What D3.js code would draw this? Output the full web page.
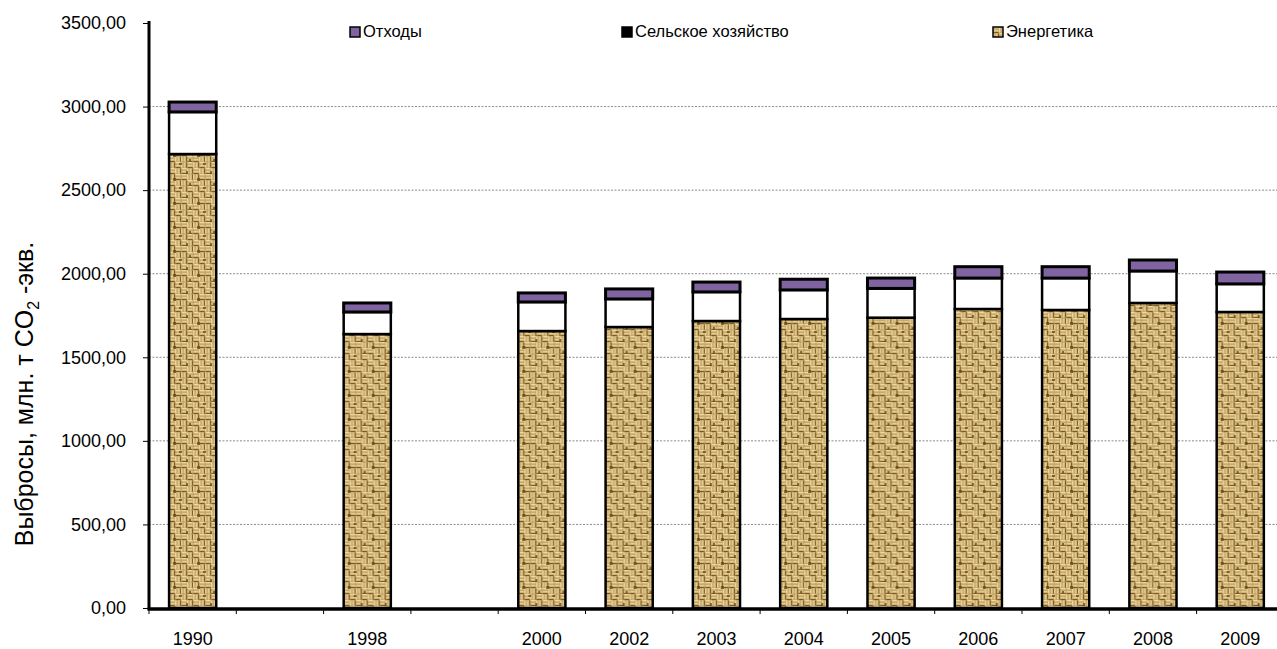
<!DOCTYPE html>
<html lang="ru">
<head>
<meta charset="utf-8">
<script src="https://cdn.jsdelivr.net/npm/d3@7"></script>
<style>
  html, body { margin: 0; padding: 0; background: #fff; }
  svg { display: block; font-family: "Liberation Sans", Arial, sans-serif; }
</style>
</head>
<body>
<svg id="chart" width="1277" height="649"></svg>
<script>
// Axis slots: empty strings keep gaps between 1990, 1998 and 2000
const slots = ["1990", "", "1998", "", "2000", "2002", "2003", "2004", "2005", "2006", "2007", "2008", "2009"];
const years = ["1990", "1998", "2000", "2002", "2003", "2004", "2005", "2006", "2007", "2008", "2009"];

// Emissions by sector, Mt CO2-eq.
const energy   = [2716, 1639, 1657, 1681, 1717, 1729, 1737, 1789, 1783, 1825, 1771];
const industry = [252, 132, 174, 168, 174, 174, 175, 185, 191, 191, 168];
const waste    = [59, 54, 54, 60, 59, 64, 62, 68, 68, 66, 71];

const yTicks = [0, 500, 1000, 1500, 2000, 2500, 3000, 3500];
const legendItems = ["Отходы", "Сельское хозяйство", "Энергетика"];

const svg = d3.select("#chart");
const margin = { left: 149, top: 23, bottom: 608 };
const slotW = 87.3;

const x = d3.scaleBand()
  .domain(d3.range(slots.length))
  .range([margin.left, margin.left + slotW * slots.length])
  .padding(0);

const y = d3.scaleLinear().domain([0, 3500]).range([margin.bottom, margin.top]);

// Burlap-like woven texture for the energy sector
const defs = svg.append("defs");
defs.append("filter").attr("id", "soft")
  .attr("x", "-5%").attr("y", "-5%").attr("width", "110%").attr("height", "110%")
  .append("feGaussianBlur").attr("stdDeviation", 0.75);

const T = 24;
const pat = defs.append("pattern")
  .attr("id", "weave")
  .attr("patternUnits", "userSpaceOnUse")
  .attr("width", T).attr("height", T);
pat.append("rect").attr("width", T).attr("height", T).attr("fill", "#bd9c5e");
const pg = pat.append("g").attr("filter", "url(#soft)");
const light = "#eed9a0", mid = "#c9aa6c", dark = "#7c5a22";
// 6x6 blocks; "h" = horizontal threads, "v" = vertical threads
const layout = [
  "hvhv",
  "vhhv",
  "hvvh",
  "vhvh"
];
layout.forEach((row, r) => {
  row.split("").forEach((o, c) => {
    const ox = c * 6, oy = r * 6;
    [light, mid, light, dark].forEach((col, k) => {
      const w = k === 3 ? 1.2 : 1.6;
      const off = [0, 1.6, 3.2, 4.8][k];
      if (o === "h") {
        pg.append("rect").attr("x", ox + 0.5).attr("y", oy + off).attr("width", 5).attr("height", w).attr("fill", col);
      } else {
        pg.append("rect").attr("x", ox + off).attr("y", oy + 0.5).attr("width", w).attr("height", 5).attr("fill", col);
      }
    });
  });
});
[[4, 10, 3, 3], [17, 3, 2, 3], [10, 19, 3, 2], [20, 15, 2, 2]].forEach(([bx, by, bw, bh]) =>
  pg.append("rect").attr("x", bx).attr("y", by).attr("width", bw).attr("height", bh)
    .attr("fill", "#5e4013").attr("opacity", 0.75));

// Gridlines
svg.append("g")
  .selectAll("line")
  .data(yTicks.filter(d => d > 0 && d < 3500))
  .join("line")
  .attr("x1", margin.left).attr("x2", 1277)
  .attr("y1", d => y(d)).attr("y2", d => y(d))
  .attr("stroke", "#8a8a8a").attr("stroke-width", 1)
  .attr("stroke-dasharray", "2,1.5");

// Stacked bars
const rows = years.map((yr, i) => ({
  year: yr,
  slot: slots.indexOf(yr),
  parts: [
    { key: "energy", v0: 0, v1: energy[i] },
    { key: "industry", v0: energy[i], v1: energy[i] + industry[i] },
    { key: "waste", v0: energy[i] + industry[i], v1: energy[i] + industry[i] + waste[i] }
  ]
}));
const fills = { energy: "url(#weave)", industry: "#ffffff", waste: "#8064a2" };
const barW = x.bandwidth() * 0.54;

const bars = svg.append("g").selectAll("g").data(rows).join("g")
  .attr("transform", d => `translate(${x(d.slot) + (x.bandwidth() - barW) / 2},0)`);
bars.selectAll("rect")
  .data(d => d.parts)
  .join("rect")
  .attr("x", 0)
  .attr("width", barW)
  .attr("y", p => y(p.v1))
  .attr("height", p => y(p.v0) - y(p.v1))
  .attr("fill", p => fills[p.key])
  .attr("stroke", "#000")
  .attr("stroke-width", p => p.key === "waste" ? 3 : 2.5);

// Y axis
const yAxis = svg.append("g")
  .attr("transform", `translate(${margin.left},0)`)
  .call(d3.axisLeft(y).tickValues(yTicks).tickSize(6).tickPadding(17)
    .tickFormat(d => d3.format(".2f")(d).replace(".", ",")));
yAxis.select(".domain").remove();
yAxis.selectAll(".tick line").attr("stroke", "#000").attr("stroke-width", 1);
yAxis.selectAll(".tick text").attr("font-size", 18).attr("fill", "#000")
  .attr("font-family", "Liberation Sans, Arial, sans-serif");
svg.append("line")
  .attr("x1", margin.left).attr("x2", margin.left)
  .attr("y1", y(3500) - 2).attr("y2", margin.bottom + 2)
  .attr("stroke", "#000").attr("stroke-width", 3);

// X axis: ticks at slot boundaries, labels centred in slots
const xg = svg.append("g");
xg.selectAll("line.tk")
  .data(d3.range(slots.length + 1))
  .join("line").attr("class", "tk")
  .attr("x1", i => margin.left + i * slotW).attr("x2", i => margin.left + i * slotW)
  .attr("y1", margin.bottom).attr("y2", margin.bottom + 6)
  .attr("stroke", "#000").attr("stroke-width", 1);
xg.append("line")
  .attr("x1", margin.left - 1.5).attr("x2", 1277)
  .attr("y1", margin.bottom + 1).attr("y2", margin.bottom + 1)
  .attr("stroke", "#000").attr("stroke-width", 3.5);
xg.selectAll("text")
  .data(slots.map((s, i) => ({ s, i })).filter(d => d.s !== ""))
  .join("text")
  .attr("x", d => x(d.i) + x.bandwidth() / 2)
  .attr("y", 645)
  .attr("text-anchor", "middle")
  .attr("font-size", 18)
  .text(d => d.s);

// Y axis title
const title = svg.append("text")
  .attr("transform", "translate(33,394) rotate(-90)")
  .attr("text-anchor", "middle")
  .attr("font-size", 25);
title.append("tspan").text("Выбросы, млн. т  CO");
title.append("tspan").attr("font-size", 16).attr("dy", 6).text("2");
title.append("tspan").attr("dy", -6).text(" -экв.");

// Legend
const legendX = [350, 622, 993];
const swatch = ["#8064a2", "#000000", "url(#weave)"];
const lg = svg.append("g").selectAll("g").data(legendItems).join("g")
  .attr("transform", (d, i) => `translate(${legendX[i]},27)`);
lg.append("rect")
  .attr("width", 10).attr("height", 10)
  .attr("fill", (d, i) => swatch[i])
  .attr("stroke", "#000").attr("stroke-width", 1.5);
lg.append("text")
  .attr("x", 13).attr("y", 10)
  .attr("font-size", 16.5)
  .text(d => d);
</script>
</body>
</html>
